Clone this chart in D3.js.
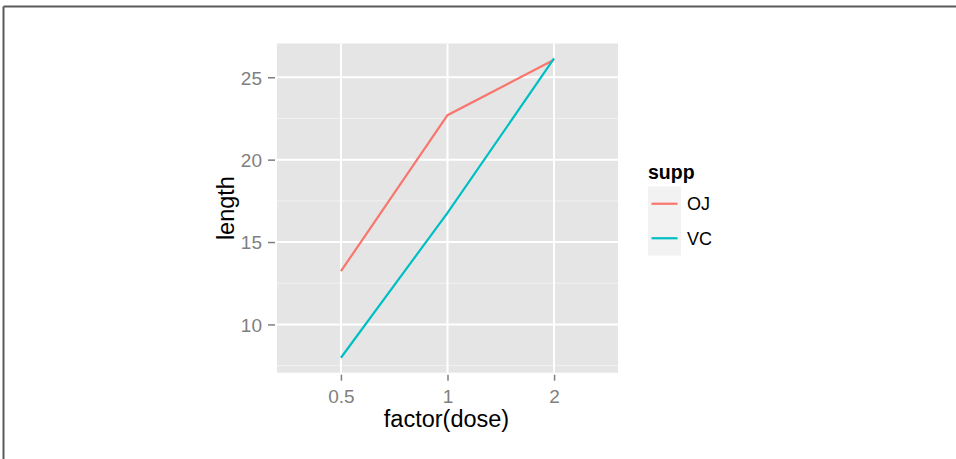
<!DOCTYPE html>
<html>
<head>
<meta charset="utf-8">
<script src="https://cdn.jsdelivr.net/npm/d3@7"></script>
<style>
  html, body { margin: 0; padding: 0; background: #fff; }
  svg { display: block; font-family: "Liberation Sans", Arial, Helvetica, sans-serif; }
</style>
</head>
<body>
<svg id="chart" width="956" height="459"></svg>
<script>
const doses = ["0.5", "1", "2"];
const supps = ["OJ", "VC"];
const lengthOJ = [13.23, 22.70, 26.06];
const lengthVC = [7.98, 16.77, 26.14];
const yTicks = [10, 15, 20, 25];
const yMinor = [7.5, 12.5, 17.5, 22.5];
const colors = ["#F8766D", "#00BFC4"];

const svg = d3.select("#chart");

// outer frame (top + left edges)
svg.append("line").attr("x1", 3.5).attr("x2", 956).attr("y1", 6.5).attr("y2", 6.5)
  .attr("stroke", "#5a5a5a").attr("stroke-width", 2);
svg.append("line").attr("x1", 3.5).attr("x2", 3.5).attr("y1", 6.5).attr("y2", 459)
  .attr("stroke", "#5a5a5a").attr("stroke-width", 2);

const panel = { left: 277, right: 618, top: 43.5, bottom: 372.7 };

const allVals = lengthOJ.concat(lengthVC);
const lo = d3.min(allVals), hi = d3.max(allVals), pad = (hi - lo) * 0.05;
const y = d3.scaleLinear().domain([lo - pad, hi + pad]).range([panel.bottom, panel.top]);

const x = d3.scalePoint().domain(doses).range([panel.left, panel.right]).padding(0.6);

// panel background
svg.append("rect").attr("x", panel.left).attr("y", panel.top)
  .attr("width", panel.right - panel.left).attr("height", panel.bottom - panel.top)
  .attr("fill", "#E5E5E5");

// minor grid
svg.append("g").selectAll("line").data(yMinor.filter(v => y(v) > panel.top && y(v) < panel.bottom)).join("line")
  .attr("x1", panel.left).attr("x2", panel.right)
  .attr("y1", d => y(d)).attr("y2", d => y(d))
  .attr("stroke", "#F2F2F2").attr("stroke-width", 1);

// major grid
svg.append("g").selectAll("line").data(yTicks).join("line")
  .attr("x1", panel.left).attr("x2", panel.right)
  .attr("y1", d => y(d)).attr("y2", d => y(d))
  .attr("stroke", "#FFFFFF").attr("stroke-width", 2);
svg.append("g").selectAll("line").data(doses).join("line")
  .attr("x1", d => x(d)).attr("x2", d => x(d))
  .attr("y1", panel.top).attr("y2", panel.bottom)
  .attr("stroke", "#FFFFFF").attr("stroke-width", 2);

// axes
const yAxis = svg.append("g").attr("transform", `translate(${panel.left},0)`)
  .call(d3.axisLeft(y).tickValues(yTicks).tickSize(5).tickPadding(5).tickFormat(d3.format("d")));
const xAxis = svg.append("g").attr("transform", `translate(0,${panel.bottom})`)
  .call(d3.axisBottom(x).tickSize(5).tickPadding(5));
[yAxis, xAxis].forEach(a => {
  a.attr("font-size", 19).attr("font-family", "'Liberation Sans', Arial, sans-serif");
  a.select(".domain").remove();
  a.selectAll(".tick line").attr("stroke", "#7F7F7F").attr("stroke-width", 1.5);
  a.selectAll(".tick text").attr("fill", "#7F7F7F").attr("font-size", 19);
});
yAxis.selectAll(".tick line").attr("x1", -9).attr("x2", -2);
yAxis.selectAll(".tick text").attr("x", -15).attr("dy", "0.36em");
xAxis.selectAll(".tick line").attr("y1", 2).attr("y2", 8);
xAxis.selectAll(".tick text").attr("y", 30).attr("dy", 0);

// lines
const series = [lengthOJ, lengthVC];
const line = d3.line().x((d, i) => x(doses[i])).y(d => y(d));
svg.append("g").selectAll("path").data(series).join("path")
  .attr("d", d => line(d))
  .attr("fill", "none")
  .attr("stroke", (d, i) => colors[i])
  .attr("stroke-width", 2.2);

// axis titles
svg.append("text").attr("x", 446.5).attr("y", 426.5)
  .attr("text-anchor", "middle").attr("font-size", 23.5).attr("fill", "#000")
  .text("factor(dose)");
svg.append("text")
  .attr("transform", `translate(234,${(panel.top + panel.bottom) / 2}) rotate(-90)`)
  .attr("text-anchor", "middle").attr("font-size", 23.5).attr("fill", "#000")
  .text("length");

// legend
const lg = svg.append("g").attr("transform", "translate(648,0)");
lg.append("text").attr("x", 0).attr("y", 179).attr("font-size", 19.5)
  .attr("font-weight", "bold").attr("fill", "#000").text("supp");
const keyTop = 186.5, keyH = 34.5, keyW = 33;
supps.forEach((s, i) => {
  const ky = keyTop + i * keyH;
  lg.append("rect").attr("x", 0).attr("y", ky).attr("width", keyW).attr("height", keyH)
    .attr("fill", "#F2F2F2");
  lg.append("line").attr("x1", 3.5).attr("x2", keyW - 3.5)
    .attr("y1", ky + keyH / 2).attr("y2", ky + keyH / 2)
    .attr("stroke", colors[i]).attr("stroke-width", 2.2);
  lg.append("text").attr("x", keyW + 6).attr("y", ky + keyH / 2 + 6.5)
    .attr("font-size", 18).attr("fill", "#000").text(s);
});
</script>
</body>
</html>
